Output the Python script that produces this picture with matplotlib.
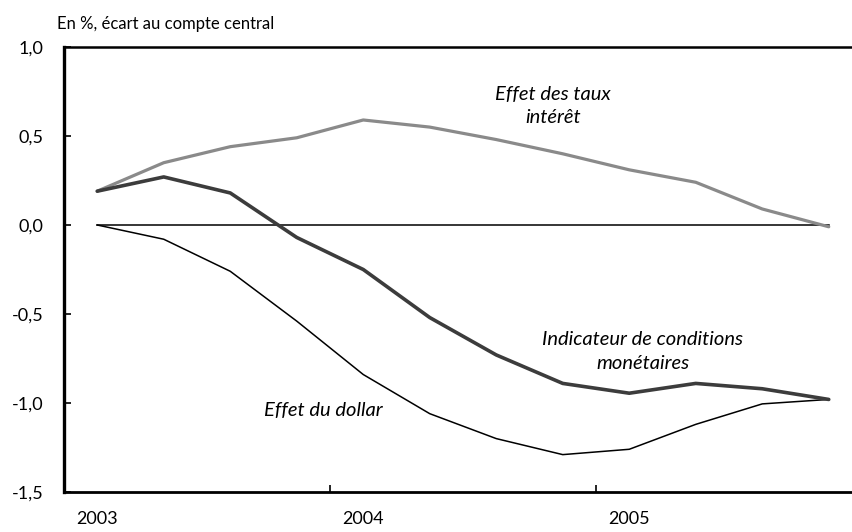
import matplotlib
matplotlib.use("Agg")
import matplotlib.pyplot as plt

plt.rcParams['font.family'] = ['Lato', 'DejaVu Sans']

# quarterly points, 2003T1 .. 2005T4
quarters = list(range(12))
taux = [0.19, 0.35, 0.44, 0.49, 0.59, 0.55, 0.48, 0.40, 0.31, 0.24, 0.09, -0.01]
icm = [0.19, 0.27, 0.18, -0.07, -0.25, -0.52, -0.73, -0.89, -0.945, -0.89, -0.92, -0.98]
dollar = [0.0, -0.08, -0.26, -0.54, -0.84, -1.06, -1.20, -1.29, -1.26, -1.12, -1.005, -0.98]
zero = [0.0] * 12

year_pos = [0, 4, 8]
year_labels = ["2003", "2004", "2005"]
year_bounds = [3.5, 7.5]
yticks = [-1.5, -1.0, -0.5, 0.0, 0.5, 1.0]

fig = plt.figure(figsize=(8.53, 5.32), dpi=100)
ax = fig.add_axes([64/853, 1 - 492/532, (862 - 64)/853, (492 - 47)/532])

ax.plot(quarters, zero, color='black', lw=1.1)
ax.plot(quarters, taux, color='#8a8a8a', lw=2.3, solid_capstyle='round')
ax.plot(quarters, dollar, color='black', lw=1.1)
ax.plot(quarters, icm, color='#3c3c3c', lw=2.6, solid_capstyle='round')

ax.set_xlim(-0.5, 11.5)
ax.set_ylim(-1.5, 1.0)
ax.set_yticks(yticks)
ax.set_yticklabels([f"{v:.1f}".replace('.', ',') for v in yticks])

# year labels under the first quarter, ticks on year boundaries
ax.set_xticks(year_bounds)
ax.set_xticklabels([])
ax.set_xticks(year_pos, minor=True)
ax.set_xticklabels(year_labels, minor=True)
ax.tick_params(axis='x', which='minor', length=0, pad=14, labelsize=13)
ax.tick_params(axis='x', which='major', direction='in', length=5, width=1.2)
ax.tick_params(axis='y', direction='in', length=5, width=1.2, pad=15, labelsize=13)

for s in ['left', 'bottom', 'top']:
    ax.spines[s].set_color('black')
ax.spines['left'].set_linewidth(2.4)
ax.spines['bottom'].set_linewidth(2.0)
ax.spines['top'].set_linewidth(1.8)
ax.spines['right'].set_visible(False)

ax.text(6.85, 0.67, "Effet des taux\nintérêt", style='italic', fontsize=14.5,
        ha='center', va='center', linespacing=1.45)
ax.text(8.2, -0.71, "Indicateur de conditions\nmonétaires", style='italic', fontsize=14.5,
        ha='center', va='center', linespacing=1.45)
ax.text(3.4, -1.04, "Effet du dollar", style='italic', fontsize=14.5,
        ha='center', va='center')

fig.text(57/853, 1 - 24/532, "En %, écart au compte central", fontsize=12,
         ha='left', va='center')

fig.savefig("out.png", dpi=100)
